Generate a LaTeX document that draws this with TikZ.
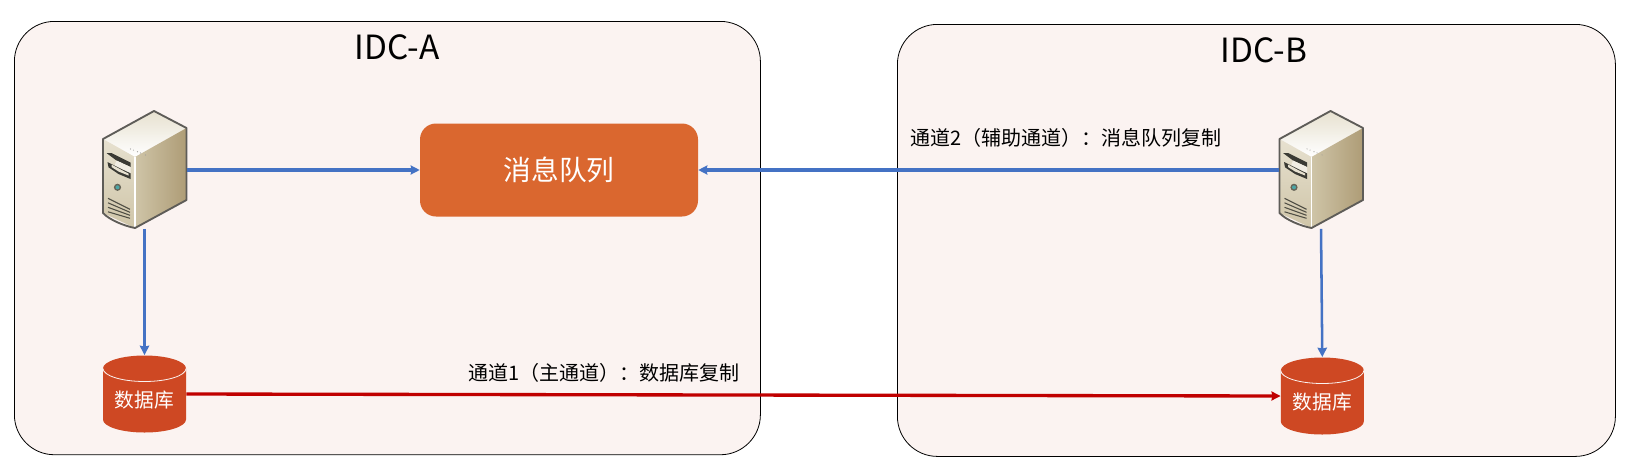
\documentclass[tikz,border=0pt]{standalone}
\usepackage{fontspec}
\setmainfont{Noto Sans CJK SC}
\usetikzlibrary{arrows.meta}
\definecolor{idcfill}{HTML}{FBF3F1}
\definecolor{queuefill}{HTML}{DA672F}
\definecolor{dbfill}{HTML}{CE4823}
\definecolor{linkblue}{HTML}{4472C4}
\definecolor{linkred}{HTML}{C00000}
\definecolor{srvedge}{HTML}{5E5C58}
\definecolor{srvB}{HTML}{CFC5A8}
\definecolor{srvC}{HTML}{E7E1D0}
\definecolor{srvD}{HTML}{AE9C76}
\definecolor{srvE}{HTML}{3A3A34}
\tikzset{
  x=0.75pt,y=-0.75pt,
  idcbox/.style={draw=black,line width=0.6pt,fill=idcfill,rounded corners=30pt,anchor=north west,inner sep=0pt},
  idctitle/.style={font=\fontsize{25}{30}\selectfont,inner sep=0pt},
  queuebox/.style={fill=queuefill,rounded corners=12pt,inner sep=0pt,text=white,font=\fontsize{20.8}{24}\selectfont},
  anchorbox/.style={inner sep=0pt,minimum width=63pt,minimum height=88pt},
  dbbox/.style={inner sep=0pt,minimum width=62.25pt,minimum height=58pt,text=white,font=\fontsize{14.8}{17}\selectfont},
  chan/.style={font=\fontsize{15}{18}\selectfont,inner sep=0pt,text=black},
  bluelink/.style={draw=linkblue,line width=2.5pt,-{Stealth[length=6.75pt,width=6.75pt,inset=0.6pt]}},
  bluedown/.style={draw=linkblue,line width=1.9pt,-{Stealth[length=7pt,width=7pt,inset=0.6pt]}},
  redlink/.style={draw=linkred,line width=2.5pt,-{Stealth[length=6.75pt,width=6.75pt,inset=0.6pt]}},
  serverpic/.pic={
    \begin{scope}
      \clip (9.5,-59) -- (-41.5,-31) -- (-9.5,-13) -- (42,-42) -- cycle;
      \shade[top color=srvC,bottom color=white] (-42,-59) rectangle (42,-13);
    \end{scope}
    \begin{scope}
      \clip (-41.5,-31) -- (-9.5,-13) -- (-9.5,58) -- (-41.5,43) -- cycle;
      \shade[top color=srvC,bottom color=srvB] (-42,-32) rectangle (-9,58);
    \end{scope}
    \begin{scope}
      \clip (-9.5,-13) -- (42,-42) -- (42,30) -- (-9.5,58) -- cycle;
      \shade[left color=srvB,middle color=srvC,right color=srvD] (-10,-42) rectangle (42,58);
    \end{scope}
    \draw[white,line width=0.9pt] (-9.5,-13) -- (-9.5,58);
    \draw[srvedge,line width=1.4pt,line join=round] (9.5,-59) -- (-41.5,-31) -- (-41.5,43)
      .. controls (-35,50) and (-20,56) .. (-9.5,58) -- (42,30) -- (42,-42) -- cycle;
    \fill[srvE] (-38,-17) -- (-33,-17) -- (-14,-7.5) -- (-14,-3) -- (-28,-9.5) -- cycle;
    \fill[srvC!60!white] (-28,-9.5) -- (-14,-3) -- (-14,3.5) -- (-30,-4.5) -- cycle;
    \fill[srvE] (-37,-8) -- (-21,0) -- (-14,3.3) -- (-14,9) -- (-26,4) -- (-36,-2.7) -- cycle;
    \fill[srvC] (-33,-5.5) -- (-21,1) -- (-16,3.5) -- (-16,5.5) -- (-26,1.5) -- (-33,-3) -- cycle;
    \fill[srvE!70!srvB] (-27,17.3) circle (3.6);
    \fill[teal!70!white] (-27,17.3) circle (2);
    \foreach \k in {0,1,2,3} \draw[srvE!85!srvB,line width=0.8pt] (-36.5,28.3+\k*4.5) -- (-14.5,39.3+\k*3);
    \foreach \d in {-14,-11,-7,-4,1} \fill[srvedge!60!white] (\d,-15.5+\d*0.4) circle (0.6);
  },
  dbpic/.pic={
    \fill[dbfill] (-41.5,-25.5) -- (-41.5,25.5) arc[start angle=180,end angle=0,x radius=41.5,y radius=13] -- (41.5,-25.5) arc[start angle=0,end angle=-180,x radius=41.5,y radius=13] -- cycle;
    \draw[idcfill,line width=0.6pt] (-41.5,-25.5) arc[start angle=180,end angle=0,x radius=41.5,y radius=13];
  }
}
\begin{document}
\begin{tikzpicture}
\useasboundingbox (0,0) rectangle (1634,472);
\fill[white] (0,0) rectangle (1634,472);
\node[idcbox,minimum width=559.5pt,minimum height=325pt] (idca) at (14,21) {};
\node[idcbox,minimum width=538.5pt,minimum height=324pt] (idcb) at (897,24) {};
\node[idctitle] (ta) at (397,47.7) {IDC-A};
\node[idctitle] (tb) at (1264,50.7) {IDC-B};
\node[queuebox,minimum width=208.5pt,minimum height=69.75pt] (queue) at (559,170) {消息队列};
\pic at (144.5,170) {serverpic};
\pic at (1321,170) {serverpic};
\node[anchorbox] (s1) at (144.5,170) {};
\node[anchorbox] (s2) at (1321,170) {};
\pic at (144.5,394) {dbpic};
\pic at (1322.3,396) {dbpic};
\node[dbbox] (d1) at (144.5,394) {\raisebox{-10.4pt}[0pt][0pt]{数据库}};
\node[dbbox] (d2) at (1322.3,396) {\raisebox{-10.4pt}[0pt][0pt]{数据库}};
\node[chan] (c2) at (1066,137.7) {通道2（辅助通道）：消息队列复制};
\node[chan] (c1) at (604,373) {通道1（主通道）：数据库复制};
\draw[bluelink] (s1.east) -- (queue.west);
\draw[bluelink] (s2.west) -- (queue.east);
\draw[bluedown] (s1.south) -- (d1.north);
\draw[bluedown] (s2.south) -- (d2.north);
\draw[redlink] (d1.east) -- (d2.west);
\end{tikzpicture}
\end{document}
